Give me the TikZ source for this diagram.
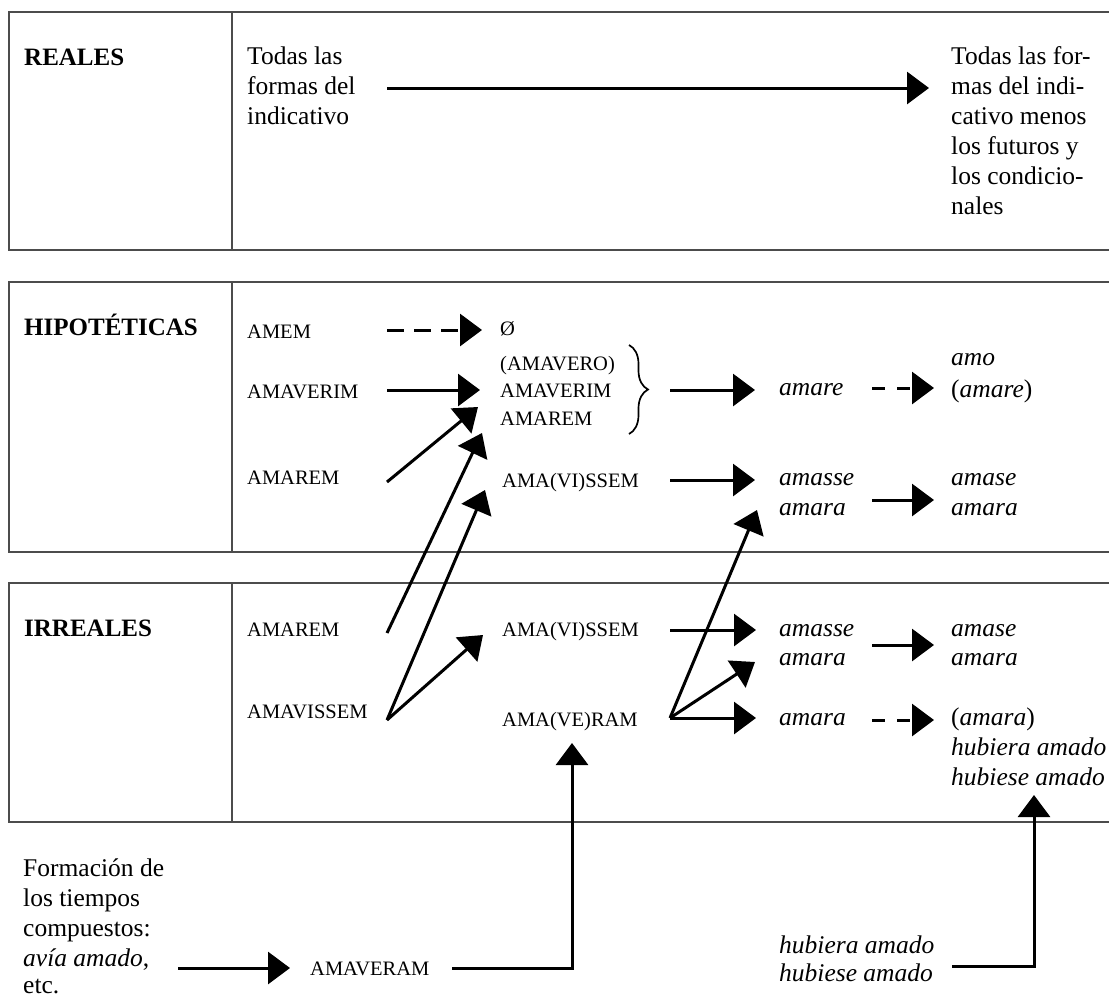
\documentclass[tikz,border=0pt]{standalone}
\usepackage{fontspec}
\setmainfont{Liberation Serif}
\usetikzlibrary{arrows.meta,decorations.pathreplacing}
\begin{document}
\begin{tikzpicture}[x=1pt,y=-1pt,
  boxline/.style={line width=1.2pt, draw=black!70},
  arr/.style={line width=3pt, -{Triangle[length=22pt,width=32pt]}},
  darrA/.style={arr, dash pattern=on 17pt off 10pt},
  darrB/.style={arr, dash pattern=on 13pt off 12pt},
  lbl/.style={anchor=base west, inner sep=0pt, font=\fontsize{25}{30}\selectfont\bfseries},
  txt/.style={anchor=base west, inner sep=0pt, font=\fontsize{25.5}{30}\selectfont},
  capt/.style={anchor=base west, inner sep=0pt, font=\fontsize{20.5}{28}\selectfont},
  itx/.style={anchor=base west, inner sep=0pt, font=\fontsize{25.5}{30}\selectfont\itshape},
  bracestyle/.style={line width=1.7pt, decorate, decoration={brace, amplitude=19pt}}
]
\useasboundingbox (0,0) rectangle (1109,997);
\fill[white] (0,0) rectangle (1109,997);

% boxes
\draw[boxline] (1109,12) -- (9,12) -- (9,250) -- (1109,250);
\draw[boxline] (232,12) -- (232,250);
\draw[boxline] (1109,282) -- (9,282) -- (9,552) -- (1109,552);
\draw[boxline] (232,282) -- (232,552);
\draw[boxline] (1109,583) -- (9,583) -- (9,822) -- (1109,822);
\draw[boxline] (232,583) -- (232,822);

% labels
\node[lbl] (reales) at (24,65) {REALES};
\node[lbl] (hipo) at (24,335) {HIPOTÉTICAS};
\node[lbl] (irre) at (24,636) {IRREALES};

% REALES row
\node[txt] (ta1) at (247,64) {Todas las};
\node[txt] (ta2) at (247,94) {formas del};
\node[txt] (ta3) at (247,124) {indicativo};
\node[txt] (tb1) at (951,64) {Todas las for-};
\node[txt] (tb2) at (951,94) {mas del indi-};
\node[txt] (tb3) at (951,124) {cativo menos};
\node[txt] (tb4) at (951,154) {los futuros y};
\node[txt] (tb5) at (951,184) {los condicio-};
\node[txt] (tb6) at (951,214) {nales};

% HIPOTETICAS
\node[capt] (amem) at (247,338) {AMEM};
\node[capt] (amaverimL) at (247,398) {AMAVERIM};
\node[capt] (amaremH) at (247,484) {AMAREM};
\node[capt] (oslash) at (500,335) {Ø};
\node[capt] (amavero) at (500,370) {(AMAVERO)};
\node[capt] (amaverimR) at (500,397) {AMAVERIM};
\node[capt] (amaremR) at (500,425) {AMAREM};
\node[capt] (amavissemH) at (502,487) {AMA(VI)SSEM};
\node[itx] (amare) at (779,395) {amare};
\node[itx] (amo) at (951,365) {amo};
\node[itx] (amareP) at (951,397) {\upshape(\itshape amare\/\upshape)};
\node[itx] (amasseH) at (779,485) {amasse};
\node[itx] (amaraH) at (779,515) {amara};
\node[itx] (amaseH) at (951,485) {amase};
\node[itx] (amaraH2) at (951,515) {amara};

% IRREALES
\node[capt] (amaremI) at (247,636) {AMAREM};
\node[capt] (amavissemL) at (247,718) {AMAVISSEM};
\node[capt] (amavissemI) at (502,636) {AMA(VI)SSEM};
\node[capt] (amaveram) at (502,726) {AMA(VE)RAM};
\node[itx] (amasseI) at (779,636) {amasse};
\node[itx] (amaraI) at (779,665) {amara};
\node[itx] (amaseI) at (951,636) {amase};
\node[itx] (amaraI2) at (951,665) {amara};
\node[itx] (amaraI3) at (779,725) {amara};
\node[itx] (amaraP) at (951,725) {\upshape(\itshape amara\/\upshape)};
\node[itx] (hubiera1) at (951,755) {hubiera amado};
\node[itx] (hubiese1) at (951,785) {hubiese amado};

% bottom
\node[txt] (f1) at (23,876) {Formación de};
\node[txt] (f2) at (23,906) {los tiempos};
\node[txt] (f3) at (23,936) {compuestos:};
\node[txt] (f4) at (23,966) {\itshape avía amado\/\upshape ,};
\node[txt] (f5) at (23,993) {etc.};
\node[capt] (amaveram2) at (310,975) {AMAVERAM};
\node[itx] (hubiera2) at (779,953) {hubiera amado};
\node[itx] (hubiese2) at (779,981) {hubiese amado};

% brace
\draw[bracestyle] (629,345) -- (629,434);

% coordinates
\coordinate (c1a) at (387,88);   \coordinate (c1b) at (929,88);
\coordinate (c2a) at (387,330);  \coordinate (c2b) at (482,330);
\coordinate (c3a) at (387,390);  \coordinate (c3b) at (480,390);
\coordinate (c4a) at (670,390);  \coordinate (c4b) at (755,390);
\coordinate (c5a) at (872,388);  \coordinate (c5b) at (934,388);
\coordinate (c6a) at (670,480);  \coordinate (c6b) at (755,480);
\coordinate (c7a) at (872,500);  \coordinate (c7b) at (934,500);
\coordinate (c8a) at (387,482);  \coordinate (c8b) at (478,407);
\coordinate (c9a) at (387,633);  \coordinate (c9b) at (482,433);
\coordinate (c10a) at (387,720); \coordinate (c10b) at (485,490);
\coordinate (c11b) at (483,635);
\coordinate (c12a) at (670,630); \coordinate (c12b) at (756,630);
\coordinate (c13a) at (872,645); \coordinate (c13b) at (934,645);
\coordinate (c14a) at (670,718); \coordinate (c14b) at (756,718);
\coordinate (c15b) at (755,662);
\coordinate (c16b) at (757,510);
\coordinate (c17a) at (872,720); \coordinate (c17b) at (934,720);
\coordinate (c18a) at (178,968); \coordinate (c18b) at (290,968);
\coordinate (c19a) at (452,968); \coordinate (c19b) at (572,743);
\coordinate (c20a) at (952,966); \coordinate (c20b) at (1034,795);

% arrows
\draw[arr] (c1a) -- (c1b);
\draw[darrA] (c2a) -- (c2b);
\draw[arr] (c3a) -- (c3b);
\draw[arr] (c4a) -- (c4b);
\draw[darrB] (c5a) -- (c5b);
\draw[arr] (c6a) -- (c6b);
\draw[arr] (c7a) -- (c7b);
\draw[arr] (c8a) -- (c8b);
\draw[arr] (c9a) -- (c9b);
\draw[arr] (c10a) -- (c10b);
\draw[arr] (c10a) -- (c11b);
\draw[arr] (c12a) -- (c12b);
\draw[arr] (c13a) -- (c13b);
\draw[arr] (c14a) -- (c14b);
\draw[arr] (c14a) -- (c15b);
\draw[arr] (c14a) -- (c16b);
\draw[darrB] (c17a) -- (c17b);
\draw[arr] (c18a) -- (c18b);
\draw[arr] (c19a) -| (c19b);
\draw[arr] (c20a) -| (c20b);
\end{tikzpicture}
\end{document}
